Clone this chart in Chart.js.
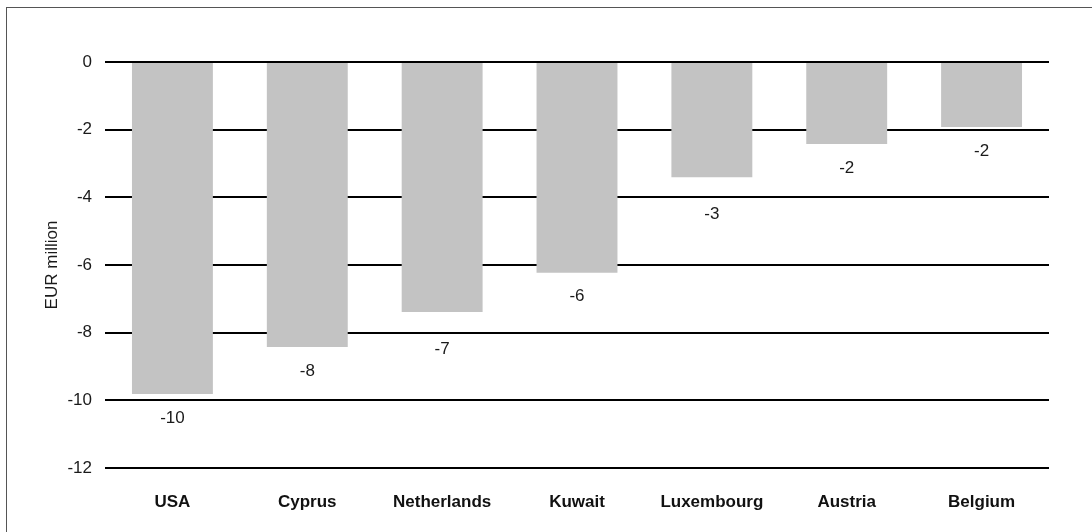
<!DOCTYPE html>
<html>
<head>
<meta charset="utf-8">
<script src="https://cdn.jsdelivr.net/npm/chart.js@4.4.1/dist/chart.umd.min.js"></script>
<style>
  html, body { margin: 0; padding: 0; background: #fff; }
  #wrap { position: relative; width: 1092px; height: 532px; }
  #frame { position: absolute; left: 6px; top: 7px; right: 0; bottom: 0;
           border-left: 1px solid #555; border-top: 1px solid #555; pointer-events: none; }
  canvas { position: absolute; left: 0; top: 0; }
</style>
</head>
<body>
<div id="wrap">
  <canvas id="c" width="1092" height="532"></canvas>
  <div id="frame"></div>
</div>
<script>
const categories = ['USA', 'Cyprus', 'Netherlands', 'Kuwait', 'Luxembourg', 'Austria', 'Belgium'];
const values = [-9.81, -8.42, -7.39, -6.23, -3.41, -2.42, -1.92];
const valueLabels = ['-10', '-8', '-7', '-6', '-3', '-2', '-2'];
const yTicks = [0, -2, -4, -6, -8, -10, -12];
const yTitle = 'EUR million';

const FONT = "'Liberation Sans', Arial, Helvetica, sans-serif";

const dataLabelPlugin = {
  id: 'dataLabels',
  afterDatasetsDraw(chart) {
    const ctx = chart.ctx;
    const meta = chart.getDatasetMeta(0);
    const yScale = chart.scales.y;
    const gridYs = yTicks.map(v => yScale.getPixelForValue(v));
    ctx.save();
    ctx.font = '17px ' + FONT;
    ctx.fillStyle = '#1a1a1a';
    ctx.textAlign = 'center';
    ctx.textBaseline = 'middle';
    meta.data.forEach((bar, i) => {
      let y = bar.y + 24;
      gridYs.forEach(g => { if (Math.abs(y - g) < 14) y = g + 17; });
      ctx.fillText(valueLabels[i], bar.x, y);
    });
    ctx.restore();
  }
};

new Chart(document.getElementById('c'), {
  type: 'bar',
  data: {
    labels: categories,
    datasets: [{
      data: values,
      backgroundColor: '#c3c3c3',
      borderWidth: 0,
      barPercentage: 0.6,
      categoryPercentage: 1.0
    }]
  },
  options: {
    responsive: false,
    animation: false,
    devicePixelRatio: 1,
    layout: { padding: { left: 0, right: 43, top: 62, bottom: 0 } },
    plugins: { legend: { display: false }, tooltip: { enabled: false } },
    scales: {
      x: {
        grid: { display: false, drawTicks: false },
        border: { display: false },
        ticks: {
          color: '#111',
          font: { family: FONT, size: 17, weight: 'bold' },
          padding: 24,
          maxRotation: 0
        },
        afterFit(scale) { scale.height = 64; }
      },
      y: {
        min: -12,
        max: 0,
        afterBuildTicks(scale) { scale.ticks = yTicks.map(v => ({ value: v })); },
        grid: { color: '#000', lineWidth: 2, drawTicks: false },
        border: { display: false },
        ticks: {
          color: '#1a1a1a',
          font: { family: FONT, size: 17 },
          padding: 13
        },
        title: {
          display: true,
          text: yTitle,
          color: '#1a1a1a',
          font: { family: FONT, size: 17 },
          padding: { top: 42, bottom: 0 }
        },
        afterFit(scale) { scale.width = 105; }
      }
    }
  },
  plugins: [dataLabelPlugin]
});
</script>
</body>
</html>
